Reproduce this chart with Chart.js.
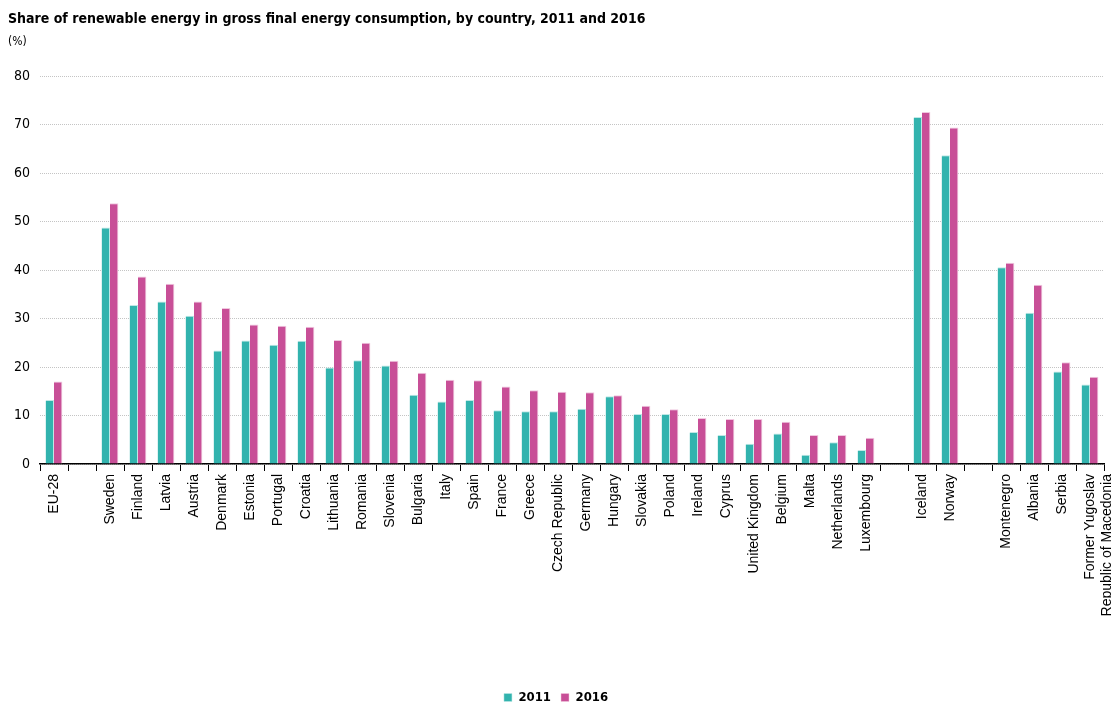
<!DOCTYPE html>
<html>
<head>
<meta charset="utf-8">
<script src="https://cdn.jsdelivr.net/npm/chart.js@4"></script>
<style>
  body { margin: 0; background: #fff; }
  #wrap { width: 1111px; height: 705px; }
</style>
</head>
<body>
<div id="wrap"><canvas id="myChart"></canvas></div>
<script>
var countries = ["EU-28", "", "Sweden", "Finland", "Latvia", "Austria", "Denmark", "Estonia", "Portugal",
  "Croatia", "Lithuania", "Romania", "Slovenia", "Bulgaria", "Italy", "Spain", "France", "Greece",
  "Czech Republic", "Germany", "Hungary", "Slovakia", "Poland", "Ireland", "Cyprus", "United Kingdom",
  "Belgium", "Malta", "Netherlands", "Luxembourg", "", "Iceland", "Norway", "", "Montenegro", "Albania",
  "Serbia", ["Former Yugoslav", "Republic of Macedonia"]];

var share2011 = [13.2, null, 48.8, 32.8, 33.5, 30.6, 23.4, 25.5, 24.6, 25.4, 19.9, 21.4, 20.3, 14.3,
  12.9, 13.2, 11.1, 10.9, 10.9, 11.4, 14.0, 10.3, 10.3, 6.6, 6.0, 4.2, 6.3, 1.9, 4.5, 2.9, null,
  71.6, 63.7, null, 40.6, 31.2, 19.1, 16.4];

var share2016 = [17.0, null, 53.8, 38.7, 37.2, 33.5, 32.2, 28.8, 28.5, 28.3, 25.6, 25.0, 21.3, 18.8,
  17.4, 17.3, 16.0, 15.2, 14.9, 14.8, 14.2, 12.0, 11.3, 9.5, 9.3, 9.3, 8.7, 6.0, 6.0, 5.4, null,
  72.6, 69.4, null, 41.5, 37.0, 21.0, 18.0];

var yTicks = [0, 10, 20, 30, 40, 50, 60, 70, 80];

var narrow = "'DejaVu Sans Condensed', 'Liberation Sans Narrow', 'Liberation Sans', sans-serif";
var plain = "'Liberation Sans', Arial, sans-serif";
Chart.defaults.font.family = plain;
Chart.defaults.color = "#000";

function renderChart() {
  var ctx = document.getElementById("myChart").getContext('2d');
  new Chart(ctx, {
    type: 'bar',
    data: {
      labels: countries,
      datasets: [{
        label: '2011',
        data: share2011,
        backgroundColor: '#32b3ae',
        borderColor: '#bfe8e6',
        borderWidth: { right: 1, top: 1, left: 0, bottom: 0 }
      }, {
        label: '2016',
        data: share2016,
        backgroundColor: '#c84f97',
        borderColor: '#f0c8df',
        borderWidth: { right: 1, top: 1, left: 0, bottom: 0 }
      }]
    },
    options: {
      responsive: true,
      maintainAspectRatio: false,
      animation: false,
      categoryPercentage: 0.6,
      barPercentage: 1.0,
      // legend sits a little lower than chart.js would put it
      layout: { padding: { left: 8, right: 7, top: 11, bottom: -9 } },
      plugins: {
        title: {
          display: true,
          text: 'Share of renewable energy in gross final energy consumption, by country, 2011 and 2016',
          align: 'start',
          font: { family: narrow, size: 14, weight: 'bold' },
          padding: { top: 0, bottom: 7 }
        },
        subtitle: {
          display: true,
          text: '(%)',
          align: 'start',
          font: { family: narrow, size: 12 },
          padding: { top: 0, bottom: 27 }
        },
        legend: {
          position: 'bottom',
          labels: {
            boxWidth: 8,
            boxHeight: 8,
            padding: 10,
            font: { family: narrow, size: 13, weight: 'bold' }
          }
        },
        tooltip: { enabled: false }
      },
      scales: {
        x: {
          afterFit: function (axis) {
            axis.height = 217;
            axis.paddingRight = 0;
          },
          grid: {
            offset: true,
            drawOnChartArea: false,
            drawTicks: true,
            tickLength: 7,
            color: '#000'
          },
          border: { display: true, color: '#000', width: 1.5 },
          ticks: {
            autoSkip: false,
            maxRotation: 90,
            minRotation: 90,
            padding: 3,
            font: { size: 14 }
          }
        },
        y: {
          min: 0,
          max: 80,
          afterBuildTicks: function (axis) {
            axis.ticks = yTicks.map(function (v) { return { value: v }; });
          },
          afterFit: function (axis) { axis.width = 32; },
          grid: {
            color: '#c4c4c4',
            lineWidth: 1,
            drawTicks: false
          },
          border: { display: false, dash: [1, 1] },
          ticks: {
            padding: 10,
            font: { family: narrow, size: 14 }
          }
        }
      }
    }
  });
}

window.onload = function () {
  renderChart();
};
</script>
</body>
</html>
